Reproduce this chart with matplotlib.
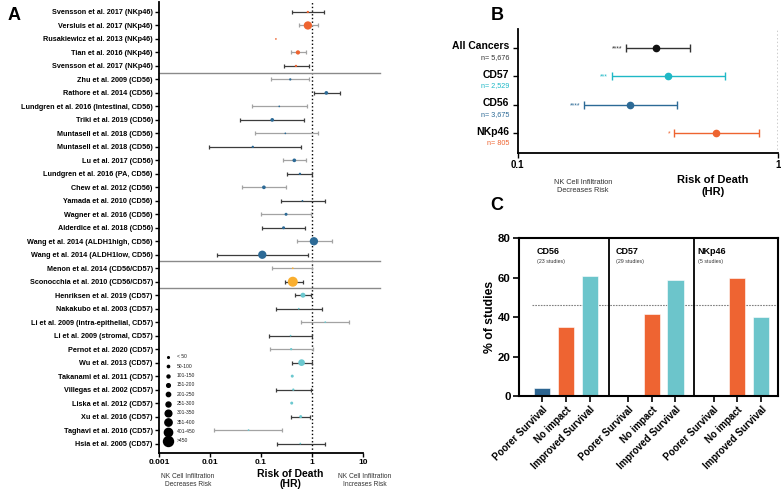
import numpy as np
import matplotlib.pyplot as plt

plt.rcParams['font.family'] = ['Liberation Sans', 'DejaVu Sans']

W, H = 781, 492

# ---- panel A: individual studies ----
studies = [
    "Svensson et al. 2017 (NKp46)", "Versluis et al. 2017 (NKp46)",
    "Rusakiewicz et al. 2013 (NKp46)", "Tian et al. 2016 (NKp46)",
    "Svensson et al. 2017 (NKp46)", "Zhu et al. 2009 (CD56)",
    "Rathore et al. 2014 (CD56)", "Lundgren et al. 2016 (Intestinal, CD56)",
    "Triki et al. 2019 (CD56)", "Muntasell et al. 2018 (CD56)",
    "Muntasell et al. 2018 (CD56)", "Lu et al. 2017 (CD56)",
    "Lundgren et al. 2016 (PA, CD56)", "Chew et al. 2012 (CD56)",
    "Yamada et al. 2010 (CD56)", "Wagner et al. 2016 (CD56)",
    "Alderdice et al. 2018 (CD56)", "Wang et al. 2014 (ALDH1high, CD56)",
    "Wang et al. 2014 (ALDH1low, CD56)", "Menon et al. 2014 (CD56/CD57)",
    "Sconocchia et al. 2010 (CD56/CD57)", "Henriksen et al. 2019 (CD57)",
    "Nakakubo et al. 2003 (CD57)", "Li et al. 2009 (intra-epithelial, CD57)",
    "Li et al. 2009 (stromal, CD57)", "Pernot et al. 2020 (CD57)",
    "Wu et al. 2013 (CD57)", "Takanami et al. 2011 (CD57)",
    "Villegas et al. 2002 (CD57)", "Liska et al. 2012 (CD57)",
    "Xu et al. 2016 (CD57)", "Taghavi et al. 2016 (CD57)",
    "Hsia et al. 2005 (CD57)",
]
marker_type = (["NKp46"] * 5 + ["CD56"] * 14 + ["CD56/CD57"] * 2 + ["CD57"] * 12)
hr = [0.83, 0.83, 0.196, 0.53, 0.485, 0.375, 1.91, 0.228, 0.166, 0.30,
      0.069, 0.45, 0.58, 0.114, 0.65, 0.31, 0.277, 1.09, 0.106, 0.42,
      0.42, 0.665, 0.55, 1.82, 0.38, 0.39, 0.625, 0.41, 0.43, 0.40,
      0.60, 0.057, 0.59]
hr_lo = [0.40, 0.55, np.nan, 0.39, 0.277, 0.16, 1.08, 0.068, 0.038, 0.078,
         0.0097, 0.265, 0.33, 0.042, 0.246, 0.102, 0.107, 0.50, 0.0138, 0.168,
         0.295, 0.456, 0.193, 0.61, 0.145, 0.147, 0.40, np.nan, 0.193, np.nan,
         0.39, 0.0122, 0.205]
hr_hi = [1.69, 1.29, np.nan, 0.76, 0.87, 0.86, 3.55, 0.80, 0.71, 1.29,
         0.60, 0.77, 1.0, 0.31, 1.80, 0.97, 0.72, 2.43, 0.82, 1.0,
         0.68, 0.97, 1.59, 5.4, 1.0, 1.04, 1.0, np.nan, 0.95, np.nan,
         0.91, 0.257, 1.82]
# sample size bin (index into size_labels)
size_bin = [1, 8, 0, 4, 1, 1, 3, 0, 3, 0, 1, 3, 1, 3, 0, 2, 2, 8, 8, 0,
            9, 5, 0, 0, 0, 1, 6, 2, 1, 2, 2, 0, 0]
size_labels = ["< 50", "50-100", "101-150", "151-200", "201-250",
               "251-300", "301-350", "351-400", "401-450", ">450"]

# ---- panel B: pooled ----
groups_b = ["All Cancers", "CD57", "CD56", "NKp46"]
n_b = ["n= 5,676", "n= 2,529", "n= 3,675", "n= 805"]
hr_b = [0.34, 0.379, 0.27, 0.579]
lo_b = [0.26, 0.23, 0.18, 0.399]
hi_b = [0.459, 0.629, 0.409, 0.85]
stars_b = ["****", "***", "****", "*"]

# ---- panel C: % of studies ----
markers_c = ["CD56", "CD57", "NKp46"]
n_studies_c = ["(23 studies)", "(29 studies)", "(5 studies)"]
outcomes = ["Poorer Survival", "No impact", "Improved Survival"]
pct_cd56 = [4.3, 34.8, 60.9]
pct_cd57 = [0, 41.4, 58.6]
pct_nkp46 = [0, 60, 40]
ref_line = 46.2

# styles
colors = {"NKp46": "#EE6430", "CD56": "#2C6A96", "CD56/CD57": "#F9AE2F",
          "CD57": "#6CC8CF"}
col_b = ["#111111", "#1FB8C6", "#2C6A96", "#EE6430"]
bar_col = ["#2C6591", "#EE6432", "#6CC5CB"]
diam_px = [1.7, 2.3, 3, 3.7, 4.3, 5, 6.7, 7.3, 8.3, 10]
whisker = ["d", "g", "n", "g", "d", "g", "d", "g", "d", "g", "d", "g", "d",
           "g", "d", "g", "d", "g", "d", "g", "d", "d", "d", "g", "d", "g",
           "d", "n", "d", "n", "d", "g", "d"]
shade = {"d": "#3c3c3c", "g": "#a3a3a3"}

fig = plt.figure(figsize=(W / 100, H / 100), dpi=100)


def px_axes(l, t, r, b):
    return fig.add_axes([l / W, 1 - b / H, (r - l) / W, (b - t) / H])


def ftext(x, y, s, **kw):
    fig.text(x / W, 1 - y / H, s, **kw)


# ================= A =================
axA = px_axes(159, 2, 363, 453)
axA.set_xscale("log")
y = np.arange(len(studies))
for i in y:
    if not np.isnan(hr_lo[i]):
        axA.errorbar(hr[i], i, xerr=[[hr[i] - hr_lo[i]], [hr_hi[i] - hr[i]]],
                     fmt="none", ecolor=shade[whisker[i]], elinewidth=0.9,
                     capsize=1.6, capthick=0.9, zorder=2)
s_pts = [(diam_px[b] * 0.72) ** 2 for b in size_bin]
axA.scatter(hr, y, s=s_pts, c=[colors[m] for m in marker_type],
            edgecolors="none", zorder=3)
axA.axvline(1, color="black", ls=":", lw=1, zorder=1)
for yy in [4.5, 18.5, 20.5]:
    axA.plot([0.001, 22], [yy, yy], color="#8a8a8a", lw=1, clip_on=False)
axA.set_xlim(0.001, 10)
axA.set_ylim(32.7, -0.74)
axA.set_yticks(y)
axA.set_yticklabels(studies, fontsize=5.2, fontweight="bold")
axA.set_xticks([0.001, 0.01, 0.1, 1, 10])
axA.set_xticklabels(["0.001", "0.01", "0.1", "1", "10"], fontsize=6,
                    fontweight="bold")
axA.minorticks_off()
axA.tick_params(length=3, width=1, pad=1.5)
for sp in ["top", "right"]:
    axA.spines[sp].set_visible(False)
for sp in ["left", "bottom"]:
    axA.spines[sp].set_linewidth(1.3)

# size legend
for k, lab in enumerate(size_labels):
    ly = 357 + k * 9.33
    axA.scatter([(168 - 159) / 204], [(453 - ly) / 451], s=(diam_px[k] * 0.72) ** 2,
                color="black", transform=axA.transAxes, clip_on=False)
    axA.text((177 - 159) / 204, (453 - ly) / 451, lab, fontsize=3.6,
             va="center", ha="left", transform=axA.transAxes, color="#222222")

ftext(290, 479, "Risk of Death\n(HR)", ha="center", va="center", fontsize=7.5,
      fontweight="bold", linespacing=1.1)
ftext(188, 480, "NK Cell Infiltration\nDecreases Risk", ha="center",
      va="center", fontsize=4.8, color="#333333")
ftext(365, 480, "NK Cell Infiltration\nIncreases Risk", ha="center",
      va="center", fontsize=4.8, color="#333333")
ftext(14, 16, "A", ha="center", va="center", fontsize=13, fontweight="bold")

# ================= B =================
axB = px_axes(517.7, 29, 777.7, 152.7)
axB.set_xscale("log")
for i in range(len(groups_b)):
    axB.errorbar(hr_b[i], i, xerr=[[hr_b[i] - lo_b[i]], [hi_b[i] - hr_b[i]]],
                 fmt="o", color=col_b[i], ecolor=col_b[i] if i else "#333333",
                 elinewidth=1, capsize=3, capthick=1, markersize=4.5)
    axB.annotate(stars_b[i], xy=(lo_b[i], i), xytext=(-2.5, -0.5),
                 textcoords="offset points", ha="right", va="center",
                 fontsize=5, color=col_b[i] if i else "#333333")
    axB.annotate(groups_b[i], xy=(0, i), xycoords=("axes fraction", "data"),
                 xytext=(-6, 1), textcoords="offset points", ha="right",
                 va="center", fontsize=7.5, fontweight="bold")
    axB.annotate(n_b[i], xy=(0, i), xycoords=("axes fraction", "data"),
                 xytext=(-6, -7), textcoords="offset points", ha="right",
                 va="center", fontsize=5.2,
                 color=col_b[i] if i else "#333333")
axB.axvline(1, color="black", ls=":", lw=1)
axB.set_xlim(0.1, 1)
axB.set_ylim(3.68, -0.656)
axB.set_yticks(range(4))
axB.set_yticklabels([])
axB.set_xticks([0.1, 1])
axB.set_xticklabels(["0.1", "1"], fontsize=7, fontweight="bold")
axB.minorticks_off()
axB.tick_params(length=3.5, width=1, pad=2)
for sp in ["top", "right"]:
    axB.spines[sp].set_visible(False)
for sp in ["left", "bottom"]:
    axB.spines[sp].set_linewidth(1.3)
ftext(583, 186, "NK Cell Infiltration\nDecreases Risk", ha="center",
      va="center", fontsize=5.3, color="#333333")
ftext(713, 186, "Risk of Death\n(HR)", ha="center", va="center", fontsize=8,
      fontweight="bold", linespacing=1.15)
ftext(497, 15, "B", ha="center", va="center", fontsize=13, fontweight="bold")

# ================= C =================
axC = px_axes(519, 238.3, 777.7, 396)
pos = np.array([0, 1, 2, 3.6, 4.6, 5.6, 7.2, 8.2, 9.2])
vals = pct_cd56 + pct_cd57 + pct_nkp46
axC.bar(pos, vals, width=0.68, color=bar_col * 3, edgecolor="white",
        linewidth=0.4, zorder=2)
for xd in [2.8, 6.4]:
    axC.axvline(xd, color="black", lw=1.3)
axC.plot([-0.45, 9.9], [ref_line, ref_line], color="#808080", ls=(0, (1.5, 1)),
         lw=0.8, zorder=1)
axC.set_xlim(-0.98, 9.9)
axC.set_ylim(0, 80)
axC.set_yticks([0, 20, 40, 60, 80])
axC.set_yticklabels(["0", "20", "40", "60", "80"], fontsize=8.2,
                    fontweight="bold")
axC.set_ylabel("% of studies", fontsize=8.8, fontweight="bold", labelpad=1)
axC.set_xticks(pos)
axC.set_xticklabels(outcomes * 3, rotation=45, ha="right",
                    rotation_mode="anchor", fontsize=7, fontweight="bold")
axC.tick_params(length=4, width=1.2, pad=2)
for sp in axC.spines.values():
    sp.set_linewidth(1.5)
for xt, name, ns in zip([-0.24, 3.1, 6.54], markers_c, n_studies_c):
    axC.text(xt, 73.2, name, fontsize=6.5, fontweight="bold", va="center")
    axC.text(xt, 68.1, ns, fontsize=3.8, va="center", color="#333333")
ftext(497, 206, "C", ha="center", va="center", fontsize=13, fontweight="bold")

fig.savefig("out.png", dpi=100)
